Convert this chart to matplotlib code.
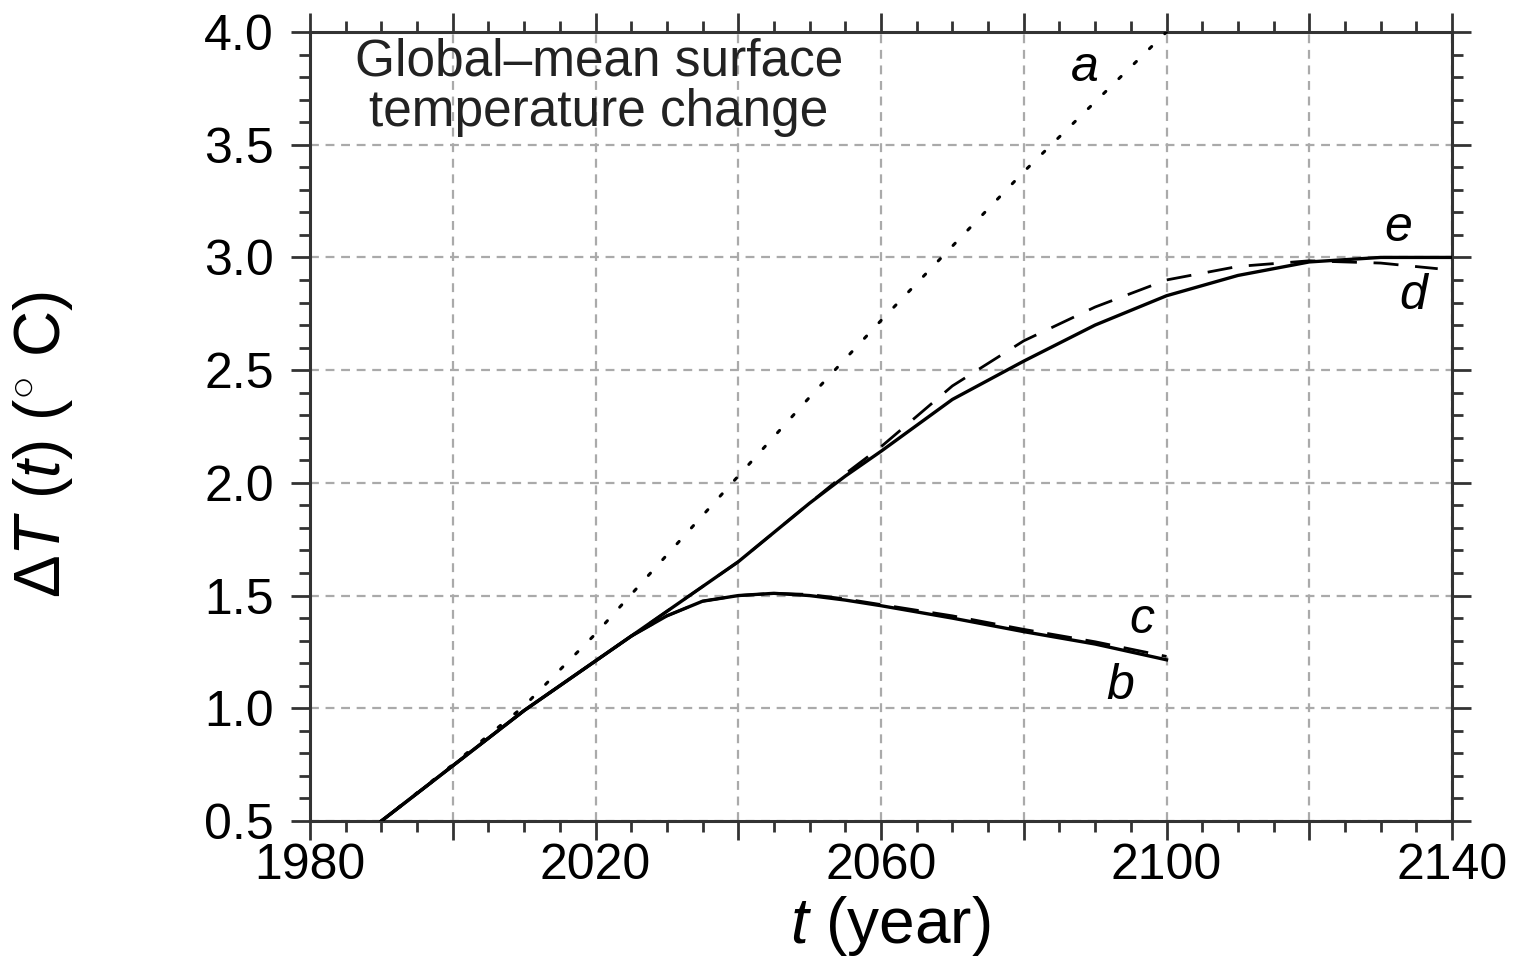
#!/usr/bin/env python3
"""Global-mean surface temperature change, scenarios a-e."""

import matplotlib
matplotlib.use("Agg")
import matplotlib.pyplot as plt
from matplotlib.ticker import MultipleLocator, FuncFormatter

plt.rcParams["font.family"] = ["Liberation Sans", "DejaVu Sans"]
plt.rcParams["mathtext.fontset"] = "custom"
plt.rcParams["mathtext.rm"] = "Liberation Sans"
plt.rcParams["mathtext.it"] = "Liberation Sans:italic"

# --- data ---
years_a = [1990, 2000, 2010, 2020, 2030, 2040, 2050, 2060, 2070, 2080, 2090, 2100]
temp_a = [0.50, 0.75, 1.01, 1.33, 1.68, 2.03, 2.38, 2.72, 3.05, 3.38, 3.69, 4.00]

years_bc = [1990, 2000, 2010, 2020, 2025, 2030, 2035, 2040, 2045, 2050, 2055,
            2060, 2070, 2080, 2090, 2100]
temp_b = [0.50, 0.745, 0.99, 1.21, 1.32, 1.41, 1.475, 1.50, 1.51, 1.50, 1.48,
          1.455, 1.40, 1.34, 1.285, 1.215]
temp_c = [0.50, 0.745, 0.99, 1.21, 1.32, 1.41, 1.475, 1.50, 1.51, 1.505, 1.485,
          1.46, 1.41, 1.35, 1.295, 1.23]

years_d = [1990, 2000, 2010, 2020, 2025, 2030, 2035, 2040, 2045, 2050, 2055,
           2060, 2070, 2080, 2090, 2100, 2110, 2120, 2130, 2138]
temp_d = [0.50, 0.745, 0.99, 1.21, 1.32, 1.43, 1.54, 1.65, 1.78, 1.91, 2.04,
          2.16, 2.43, 2.63, 2.78, 2.90, 2.96, 2.985, 2.975, 2.95]

years_e = [1990, 2000, 2010, 2020, 2025, 2030, 2035, 2040, 2045, 2050, 2055,
           2060, 2070, 2080, 2090, 2100, 2110, 2120, 2130, 2140]
temp_e = [0.50, 0.745, 0.99, 1.21, 1.32, 1.43, 1.54, 1.65, 1.78, 1.91, 2.03,
          2.14, 2.37, 2.54, 2.70, 2.83, 2.92, 2.98, 3.00, 3.00]

curve_labels = ["a", "b", "c", "d", "e"]
label_pos = [(2088.5, 3.84), (2093.5, 1.10), (2096.5, 1.39), (2134.5, 2.83),
             (2132.5, 3.13)]

FS_TICK = 36
FS_TITLE = 37
FS_LABEL = 46

fig = plt.figure(figsize=(15.23, 9.72), dpi=100)
ax = fig.add_axes([310 / 1523, 1 - 821 / 972, 1142 / 1523, 789 / 972])

ax.plot(years_a, temp_a, color="black", lw=2.2, ls=(0, (1, 6)),
        dash_capstyle="round", zorder=4)
ax.plot(years_bc, temp_b, color="black", lw=2.4, zorder=4)
ax.plot(years_bc, temp_c, color="black", lw=2.0, ls=(0, (9, 5)), zorder=4)
ax.plot(years_d, temp_d, color="black", lw=2.0, ls=(0, (9, 6)), zorder=4)
ax.plot(years_e, temp_e, color="black", lw=2.4, zorder=4)

for lab, (x, y) in zip(curve_labels, label_pos):
    ax.text(x, y, lab, fontsize=FS_TICK, style="italic", ha="center",
            va="center", zorder=5)

ax.text(2020.5, 3.755, "Global\u2013mean surface\ntemperature change",
        fontsize=FS_TITLE, ha="center", va="center", linespacing=1.05,
        color="#222222")

ax.set_xlim(1980, 2140)
ax.set_ylim(0.5, 4.0)

ax.xaxis.set_major_locator(MultipleLocator(20))
ax.xaxis.set_minor_locator(MultipleLocator(5))
ax.xaxis.set_major_formatter(
    FuncFormatter(lambda v, _: f"{int(round(v))}" if round(v) % 40 == 20 else ""))
ax.yaxis.set_major_locator(MultipleLocator(0.5))
ax.yaxis.set_minor_locator(MultipleLocator(0.1))
ax.yaxis.set_major_formatter(FuncFormatter(lambda v, _: f"{v:.1f}"))

ax.tick_params(which="both", direction="out", top=True, right=True,
               color="#333333", width=2.0, labelsize=FS_TICK)
ax.tick_params(which="major", length=14)
ax.tick_params(which="minor", length=8)
ax.tick_params(axis="x", pad=2)
ax.tick_params(axis="y", pad=12)

for side in ["left", "right", "top", "bottom"]:
    ax.spines[side].set_color("#333333")
    ax.spines[side].set_linewidth(2.2)

ax.grid(True, which="major", color="#aaaaaa", lw=1.6, ls=(0, (4, 3)))
ax.set_axisbelow(True)

ax.set_xlabel(r"$t$ (year)", fontsize=FS_LABEL)
ax.set_ylabel(r"$\Delta T\ (t)$ ($^{\circ}$ C)", fontsize=FS_LABEL)
ax.xaxis.set_label_coords(0.508, -0.092)
ax.yaxis.set_label_coords(-0.206, 0.477)

fig.savefig("out.png", dpi=100, facecolor="white")
plt.close(fig)
